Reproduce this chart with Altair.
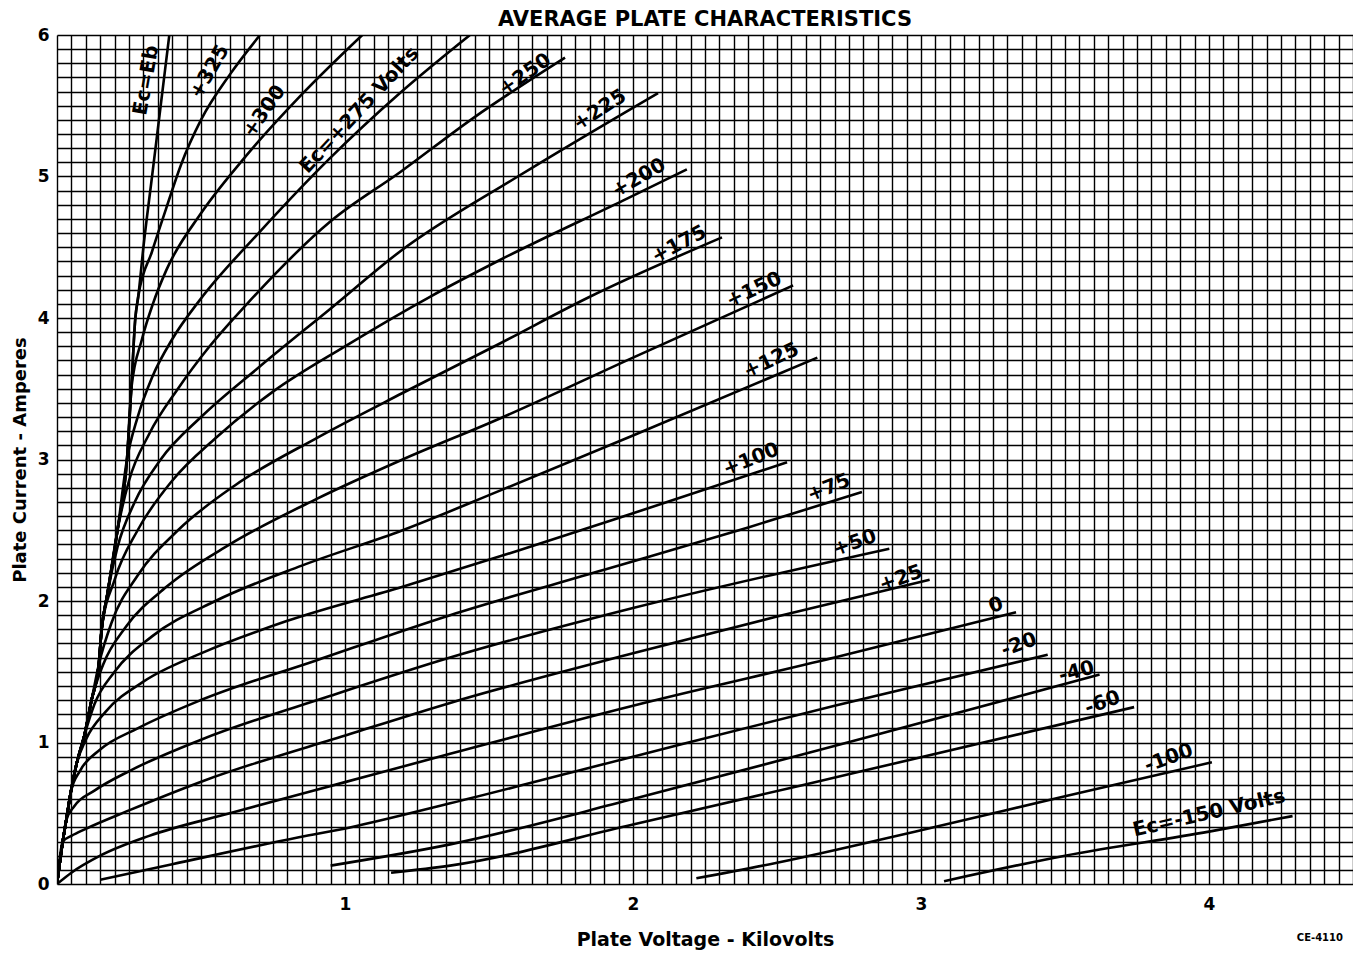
import altair as alt
import pandas as pd

# ---- curve data (plate voltage kV, plate current A) ----
EB_V = [0, 0.02, 0.032, 0.048, 0.068, 0.095, 0.12, 0.145, 0.155, 0.175, 0.21, 0.243, 0.258,
        0.272, 0.282, 0.30, 0.33, 0.36, 0.39]
EB_I = [0, 0.3, 0.45, 0.65, 0.85, 1.05, 1.3, 1.55, 1.8, 2.05, 2.5, 3.0, 3.5,
        4.0, 4.15, 4.5, 5.0, 5.5, 6.0]

# positive-grid curves: index of the knee on the Ec=Eb line, then own points
P325_K = 14
P325_V = [0.33, 0.38, 0.43, 0.50, 0.60, 0.705]
P325_I = [4.47, 4.78, 5.08, 5.4, 5.72, 6.0]
P300_K = 12
P300_V = [0.295, 0.333, 0.38, 0.50, 0.65, 0.85, 1.06]
P300_I = [3.85, 4.1, 4.34, 4.74, 5.13, 5.58, 6.0]
P275_K = 11
P275_V = [0.28, 0.33, 0.40, 0.497, 0.70, 0.948, 1.191, 1.434]
P275_I = [3.3, 3.58, 3.85, 4.13, 4.6, 5.13, 5.59, 6.0]
P250_K = 10
P250_V = [0.25, 0.32, 0.42, 0.53, 0.66, 0.948, 1.191, 1.45, 1.764]
P250_I = [2.85, 3.18, 3.5, 3.8, 4.1, 4.68, 5.03, 5.42, 5.84]
P225_K = 9
P225_V = [0.21, 0.27, 0.36, 0.50, 0.70, 0.958, 1.191, 1.60, 2.087]
P225_I = [2.38, 2.7, 3.0, 3.3, 3.65, 4.08, 4.47, 5.0, 5.59]
P200_K = 8
P200_V = [0.20, 0.28, 0.40, 0.55, 0.75, 1.00, 1.295, 1.538, 1.965, 2.187]
P200_I = [2.15, 2.5, 2.85, 3.15, 3.48, 3.8, 4.15, 4.41, 4.83, 5.05]
P175_K = 7
P175_V = [0.19, 0.28, 0.42, 0.62, 0.90, 1.20, 1.538, 1.85, 2.309]
P175_I = [1.85, 2.18, 2.5, 2.82, 3.15, 3.47, 3.82, 4.15, 4.57]
P150_K = 6
P150_V = [0.16, 0.24, 0.38, 0.60, 0.90, 1.20, 1.538, 2.00, 2.556]
P150_I = [1.55, 1.82, 2.1, 2.4, 2.72, 3.0, 3.29, 3.72, 4.23]
P125_K = 5
P125_V = [0.13, 0.20, 0.33, 0.55, 0.85, 1.20, 1.538, 2.00, 2.64]
P125_I = [1.27, 1.5, 1.75, 2.0, 2.25, 2.5, 2.78, 3.17, 3.72]
P100_K = 4
P100_V = [0.10, 0.17, 0.30, 0.50, 0.80, 1.20, 1.608, 2.00, 2.535]
P100_I = [1.02, 1.22, 1.43, 1.63, 1.86, 2.1, 2.36, 2.62, 2.98]
P75_K = 3
P75_V = [0.08, 0.15, 0.28, 0.50, 0.90, 1.365, 1.90, 2.40, 2.795]
P75_I = [0.8, 0.95, 1.1, 1.3, 1.58, 1.9, 2.22, 2.52, 2.77]
P50_K = 2
P50_V = [0.06, 0.13, 0.253, 0.50, 0.95, 1.365, 2.00, 2.89]
P50_I = [0.55, 0.66, 0.8, 1.02, 1.33, 1.6, 1.95, 2.37]
P25_K = 1
P25_V = [0.05, 0.10, 0.25, 0.51, 1.017, 1.365, 2.00, 2.50, 3.03]
P25_I = [0.34, 0.39, 0.52, 0.73, 1.06, 1.28, 1.63, 1.89, 2.15]
Z0_V = [0, 0.05, 0.15, 0.32, 0.60, 1.00, 1.365, 2.00, 2.70, 3.33]
Z0_I = [0, 0.08, 0.2, 0.34, 0.5, 0.72, 0.92, 1.26, 1.6, 1.92]
M20_V = [0.15, 0.40, 0.84, 1.017, 1.365, 2.00, 2.70, 3.44]
M20_I = [0.03, 0.14, 0.33, 0.40, 0.57, 0.9, 1.26, 1.62]
M40_V = [0.95, 1.365, 2.00, 2.80, 3.62]
M40_I = [0.13, 0.28, 0.6, 1.03, 1.48]
M60_V = [1.16, 1.365, 2.00, 2.80, 3.74]
M60_I = [0.08, 0.13, 0.42, 0.8, 1.25]
M100_V = [2.22, 2.50, 3.00, 3.50, 4.01]
M100_I = [0.04, 0.15, 0.38, 0.62, 0.86]
M150_V = [3.08, 3.50, 4.00, 4.29]
M150_I = [0.02, 0.2, 0.37, 0.48]

# curve labels
LAB_TEXT = ["Ec=Eb", "+325", "+300", "Ec=+275 Volts", "+250", "+225", "+200", "+175",
            "+150", "+125", "+100", "+75", "+50", "+25", "0", "-20", "-40", "-60",
            "-100", "Ec=-150 Volts"]
LAB_V = [0.31, 0.53, 0.72, 1.05, 1.625, 1.885, 2.02, 2.16, 2.42, 2.48, 2.41, 2.68, 2.77,
         2.93, 3.26, 3.34, 3.54, 3.63, 3.86, 4.00]
LAB_I = [5.68, 5.74, 5.46, 5.47, 5.72, 5.47, 4.99, 4.52, 4.2, 3.7, 3.0, 2.8, 2.41, 2.16,
         1.97, 1.69, 1.50, 1.28, 0.89, 0.50]
LAB_ANGLE = [280, 300, 305, 313, 325, 327, 330, 332, 335, 335, 338, 338, 340, 340, 340,
             340, 345, 340, 340, 347]

rows = []


def add(name, vs, is_):
    for k, (v, i) in enumerate(zip(vs, is_)):
        rows.append({"curve": name, "V": v, "I": i, "k": k})


def add_pos(name, knee, tv, ti):
    add(name, EB_V[:knee + 1] + tv, EB_I[:knee + 1] + ti)


add("Eb", EB_V, EB_I)
add_pos("+325", P325_K, P325_V, P325_I)
add_pos("+300", P300_K, P300_V, P300_I)
add_pos("+275", P275_K, P275_V, P275_I)
add_pos("+250", P250_K, P250_V, P250_I)
add_pos("+225", P225_K, P225_V, P225_I)
add_pos("+200", P200_K, P200_V, P200_I)
add_pos("+175", P175_K, P175_V, P175_I)
add_pos("+150", P150_K, P150_V, P150_I)
add_pos("+125", P125_K, P125_V, P125_I)
add_pos("+100", P100_K, P100_V, P100_I)
add_pos("+75", P75_K, P75_V, P75_I)
add_pos("+50", P50_K, P50_V, P50_I)
add_pos("+25", P25_K, P25_V, P25_I)
add("0", Z0_V, Z0_I)
add("-20", M20_V, M20_I)
add("-40", M40_V, M40_I)
add("-60", M60_V, M60_I)
add("-100", M100_V, M100_I)
add("-150", M150_V, M150_I)
curves = pd.DataFrame(rows)

labels = pd.DataFrame({"t": LAB_TEXT, "V": LAB_V, "I": LAB_I, "a": LAB_ANGLE})

x_grid = [round(k * 0.05, 2) for k in range(0, 91)]
y_grid = [round(k * 0.1, 1) for k in range(0, 61)]

FONT = "DejaVu Sans"

xscale = alt.Scale(domain=[0, 4.5], nice=False, zero=False)
yscale = alt.Scale(domain=[0, 6], nice=False, zero=False)

xaxis = alt.Axis(
    values=x_grid, tickCount=1000, grid=True, gridColor="black", gridWidth=1.4,
    gridOpacity=1, ticks=False, domain=False, labelPadding=12,
    labelExpr="(abs(datum.value - round(datum.value)) < 0.001 && datum.value > 0) ? format(datum.value, 'd') : ''",
    labelFont=FONT, labelFontSize=17, labelFontWeight="bold", labelColor="black",
    title="Plate Voltage - Kilovolts", titleFont=FONT, titleFontSize=19,
    titleFontWeight="bold", titleColor="black", titlePadding=18,
    labelOverlap=False, labelFlush=False,
)
yaxis = alt.Axis(
    values=y_grid, tickCount=1000, grid=True, gridColor="black", gridWidth=1.4,
    gridOpacity=1, ticks=False, domain=False, labelPadding=8,
    labelExpr="(abs(datum.value - round(datum.value)) < 0.001) ? format(datum.value, 'd') : ''",
    labelFont=FONT, labelFontSize=17, labelFontWeight="bold", labelColor="black",
    title="Plate Current - Amperes", titleFont=FONT, titleFontSize=18,
    titleFontWeight="bold", titleColor="black", titlePadding=8,
    labelOverlap=False, labelFlush=False,
)

lines = alt.Chart(curves).mark_line(
    color="black", strokeWidth=2.6, interpolate="monotone", clip=True
).encode(
    x=alt.X("V:Q", scale=xscale, axis=xaxis),
    y=alt.Y("I:Q", scale=yscale, axis=yaxis),
    detail="curve:N",
    order="k:Q",
)

text = alt.Chart(labels).mark_text(
    font=FONT, fontSize=20, fontWeight="bold", color="black", baseline="middle",
    align="center"
).encode(
    x=alt.X("V:Q", scale=xscale),
    y=alt.Y("I:Q", scale=yscale),
    text="t:N",
    angle=alt.Angle("a:Q", scale=None),
)

code = alt.Chart(pd.DataFrame({"t": ["CE-4110"]})).mark_text(
    font=FONT, fontSize=10, fontWeight="bold", color="black", align="right",
    baseline="middle"
).encode(x=alt.value(1286), y=alt.value(903), text="t:N")

chart = alt.layer(lines, text, code).properties(
    width=1296, height=849,
    title=alt.Title("AVERAGE PLATE CHARACTERISTICS", font=FONT, fontSize=21,
                    fontWeight="bold", color="black", offset=-4),
    autosize=alt.AutoSizeParams(type="none"),
    padding={"left": 49, "top": 27, "right": 0, "bottom": 66},
).configure_view(stroke="black", strokeWidth=3).configure(background="white")

chart.save("out.html", embed_options={"renderer": "svg", "actions": False})
